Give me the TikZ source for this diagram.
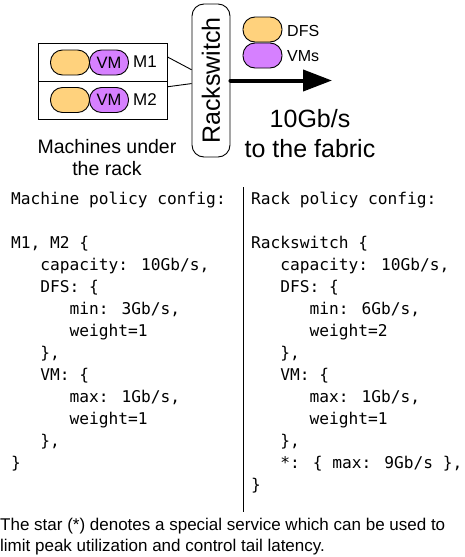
\documentclass[tikz,border=0pt]{standalone}
\usepackage{fontspec}
\setmainfont{Liberation Sans}
\newfontfamily\codefont{DejaVu Sans Mono}
\usetikzlibrary{arrows.meta,calc}
\definecolor{dfsyellow}{RGB}{255,210,125}
\definecolor{vmpurple}{RGB}{214,128,255}
\newcommand\indA{\phantom{xxx}}
\newcommand\indB{\phantom{xxxxxx}}
\begin{document}
\begin{tikzpicture}[x=1pt,y=-1pt,
  pill/.style={draw, line width=0.9pt, rounded corners=12pt, minimum width=39pt, minimum height=25pt, inner sep=0pt},
  dfspill/.style={pill, fill=dfsyellow},
  vmpill/.style={pill, fill=vmpurple, font=\fontsize{16.5}{19}\selectfont},
  rowbox/.style={draw, line width=0.9pt, minimum width=129pt, minimum height=38pt, inner sep=0pt},
  lbl/.style={inner sep=0pt, font=\fontsize{17}{20}\selectfont},
  legtext/.style={inner sep=0pt, font=\fontsize{16}{19}\selectfont},
  big/.style={inner sep=0pt, font=\fontsize{25}{30}\selectfont},
  mid/.style={inner sep=0pt, font=\fontsize{19.5}{22}\selectfont},
  codeblock/.style={inner sep=0pt, align=left, anchor=north west, font=\codefont\fontsize{16.2}{22}\selectfont},
  conn/.style={line width=0.9pt}
]
\path[use as bounding box] (0,0) rectangle (465,557);

% machines
\node[rowbox] (row1) at (102.5,62) {};
\node[rowbox] (row2) at (102.5,100) {};
\node[dfspill] (d1) at (70,62.5) {};
\node[vmpill] (v1) at (109,62.5) {VM};
\node[dfspill] (d2) at (70,100) {};
\node[vmpill] (v2) at (109,100) {VM};
\node[lbl] (m1) at (145,62) {M1};
\node[lbl] (m2) at (145,100) {M2};

% switch
\node[draw, line width=0.9pt, rounded corners=12pt, minimum width=38pt, minimum height=153pt, inner sep=0pt] (switch) at (211,80.5) {};
\node[big, rotate=90] (swlabel) at (switch.center) {Rackswitch};

\draw[conn] ($(row1.north east)!0.37!(row1.south east)$) -- ($(switch.north west)!0.43!(switch.south west)$);
\draw[conn] ($(row2.north east)!0.16!(row2.south east)$) -- ($(switch.north west)!0.52!(switch.south west)$);

% legend
\node[dfspill] (legd) at (262.5,29.5) {};
\node[vmpill] (legv) at (262.5,55.5) {};
\node[legtext, anchor=west] (dfs) at (287,30.5) {DFS};
\node[legtext, anchor=west] (vms) at (287,56) {VMs};

% arrow
\coordinate (fabric) at (332,80.5);
\draw[line width=4pt, line cap=round, -{Triangle[length=29pt,width=21pt]}] (switch.east) -- (fabric);
\node[big, anchor=base] (rate) at (310,127) {10Gb/s};
\node[big, anchor=base] (tofab) at (310,157) {to the fabric};

\node[mid, anchor=base] (mach1) at (107,153) {Machines under};
\node[mid, anchor=base] (mach2) at (107,175) {the rack};

% code
\node[codeblock] (leftcode) at (11,192) {Machine policy config:\\
\mbox{}\\
M1, M2 \{\\
\indA capacity: 10Gb/s,\\
\indA DFS: \{\\
\indB min: 3Gb/s,\\
\indB weight=1\\
\indA \},\\
\indA VM: \{\\
\indB max: 1Gb/s,\\
\indB weight=1\\
\indA \},\\
\}};

\node[codeblock] (rightcode) at (251,192) {Rack policy config:\\
\mbox{}\\
Rackswitch \{\\
\indA capacity: 10Gb/s,\\
\indA DFS: \{\\
\indB min: 6Gb/s,\\
\indB weight=2\\
\indA \},\\
\indA VM: \{\\
\indB max: 1Gb/s,\\
\indB weight=1\\
\indA \},\\
\indA *: \{ max: 9Gb/s \},\\
\}};

\coordinate (divtop) at (243,187);
\coordinate (divbot) at (243,512);
\draw[line width=1pt] (divtop) -- (divbot);

% note
\node[anchor=base west, inner sep=0pt, font=\fontsize{17}{20}\selectfont] (note1) at (0,530) {The star (*) denotes a special service which can be used to};
\node[anchor=base west, inner sep=0pt, font=\fontsize{17}{20}\selectfont] (note2) at (0,551) {limit peak utilization and control tail latency.};
\end{tikzpicture}
\end{document}
